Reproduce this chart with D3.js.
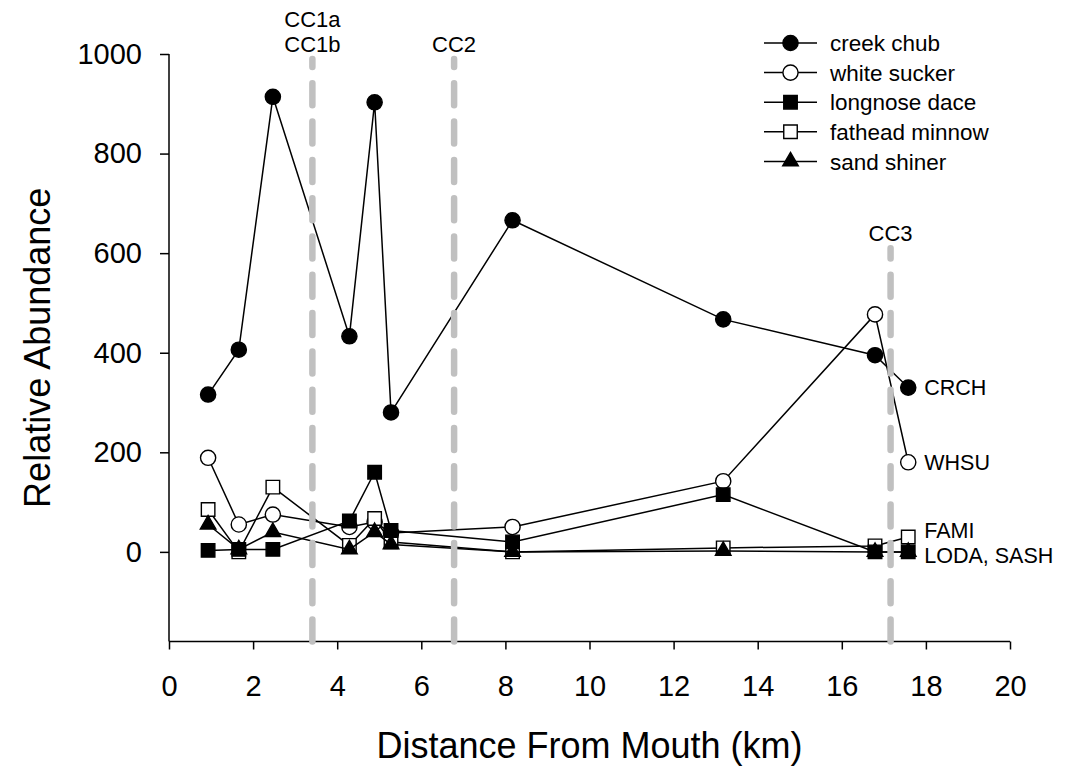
<!DOCTYPE html>
<html>
<head>
<meta charset="utf-8">
<script src="https://cdn.jsdelivr.net/npm/d3@7"></script>
<style>
  html, body { margin: 0; padding: 0; background: #fff; }
  svg text { font-family: "Liberation Sans", Arial, sans-serif; fill: #000; }
</style>
</head>
<body>
<svg id="chart" width="1068" height="767"></svg>
<script>
// Sampling sites along the creek (km upstream of the mouth)
const distanceKm = [0.93, 1.66, 2.47, 4.29, 4.89, 5.28, 8.17, 13.18, 16.79, 17.58];

// Relative abundance per species at each site
const creekChub     = [316, 406, 914, 433, 903, 280, 666, 467, 395, 330];
const whiteSucker   = [189, 55, 75, 50, 60, 38, 50, 142, 477, 180];
const fatheadMinnow = [85, 0, 130, 13, 67, 20, 0, 8, 12, 30];
const longnoseDace  = [3, 5, 5, 62, 160, 43, 20, 115, 0, 0];
const sandShiner    = [55, 5, 40, 5, 40, 15, 0, 2, 0, 0];

// Legend order and names
const speciesNames = ["creek chub", "white sucker", "longnose dace", "fathead minnow", "sand shiner"];
const speciesCodes = ["CRCH", "WHSU", "LODA", "FAMI", "SASH"];

// Reference sites marked with vertical dashed lines
const siteNames = [["CC1a", "CC1b"], ["CC2"], ["CC3"]];
const siteKm    = [3.41, 6.78, 17.16];
const siteTop   = [990, 990, 610];

// Axis ticks
const xTicks = [0, 2, 4, 6, 8, 10, 12, 14, 16, 18, 20];
const yTicks = [0, 200, 400, 600, 800, 1000];

const svg = d3.select("#chart");
const x = d3.scaleLinear().domain([0, 20]).range([169, 1010]);
const y = d3.scaleLinear().domain([-180, 1000]).range([641.5, 54]);

const series = [
  { name: speciesNames[0], values: creekChub,     shape: "circle",   fill: "#000" },
  { name: speciesNames[1], values: whiteSucker,   shape: "circle",   fill: "#fff" },
  { name: speciesNames[2], values: longnoseDace,  shape: "square",   fill: "#000" },
  { name: speciesNames[3], values: fatheadMinnow, shape: "square",   fill: "#fff" },
  { name: speciesNames[4], values: sandShiner,    shape: "triangle", fill: "#000" }
];
const drawOrder = [0, 1, 3, 2, 4];

const symbolPath = {
  circle:   d3.symbol().type(d3.symbolCircle).size(Math.PI * 7.6 * 7.6)(),
  square:   d3.symbol().type(d3.symbolSquare).size(13.5 * 13.5)(),
  triangle: d3.symbol().type(d3.symbolTriangle).size(105)()
};

function drawMarker(g, s, cx, cy) {
  g.append("path")
    .attr("d", symbolPath[s.shape])
    .attr("transform", `translate(${cx},${cy})`)
    .attr("fill", s.fill)
    .attr("stroke", "#000")
    .attr("stroke-width", 1.4);
}

// Axes
const xAxis = svg.append("g")
  .attr("transform", `translate(0,${y(-180)})`)
  .call(d3.axisBottom(x).tickValues(xTicks).tickSizeOuter(0).tickSizeInner(8).tickPadding(26).tickFormat(d3.format("d")));
const yAxis = svg.append("g")
  .attr("transform", `translate(${x(0)},0)`)
  .call(d3.axisLeft(y).tickValues(yTicks).tickSizeOuter(0).tickSizeInner(9).tickPadding(18).tickFormat(d3.format("d")));
[xAxis, yAxis].forEach(a => {
  a.select(".domain").attr("stroke", "#000").attr("stroke-width", 1.5);
  a.selectAll(".tick line").attr("stroke", "#000").attr("stroke-width", 1.5);
  a.selectAll(".tick text").style("font-size", "29px").attr("fill", "#000");
});
yAxis.select(".domain").attr("d", `M0,${y(-180)}V${y(1000)}`);
xAxis.select(".domain").attr("d", `M${x(0)},0H${x(20)}`);

// Axis titles
svg.append("text")
  .attr("x", (x(0) + x(20)) / 2)
  .attr("y", 758)
  .attr("text-anchor", "middle")
  .style("font-size", "36px")
  .text("Distance From Mouth (km)");
svg.append("text")
  .attr("transform", `translate(50,${(y(-180) + y(1000)) / 2}) rotate(-90)`)
  .attr("text-anchor", "middle")
  .style("font-size", "36px")
  .text("Relative Abundance");

// Series lines and markers
const line = d3.line().x(d => x(d[0])).y(d => y(d[1]));
const plot = svg.append("g");
drawOrder.forEach(i => {
  const s = series[i];
  const pts = distanceKm.map((d, j) => [d, s.values[j]]);
  const g = plot.append("g");
  g.append("path")
    .attr("d", line(pts))
    .attr("fill", "none")
    .attr("stroke", "#000")
    .attr("stroke-width", 1.5);
  pts.forEach(p => drawMarker(g, s, x(p[0]), y(p[1])));
});

// Dashed reference lines at the study sites, drawn bottom-up
siteKm.forEach((km, i) => {
  svg.append("line")
    .attr("x1", x(km)).attr("x2", x(km))
    .attr("y1", y(-180)).attr("y2", y(siteTop[i]))
    .attr("stroke", "#c0c0c0")
    .attr("stroke-width", 6.5)
    .attr("stroke-linecap", "round")
    .attr("stroke-dasharray", "22,16.3");
  const lines = siteNames[i];
  const baseY = y(siteTop[i]) - 7;
  lines.forEach((t, k) => {
    svg.append("text")
      .attr("x", x(km))
      .attr("y", baseY - (lines.length - 1 - k) * 25)
      .attr("text-anchor", "middle")
      .style("font-size", "22px")
      .text(t);
  });
});

// End-of-line species codes
const lastIdx = distanceKm.length - 1;
const endLabels = [
  { text: speciesCodes[0], v: creekChub[lastIdx] },
  { text: speciesCodes[1], v: whiteSucker[lastIdx] },
  { text: speciesCodes[3], v: fatheadMinnow[lastIdx] + 14 },
  { text: speciesCodes[2] + ", " + speciesCodes[4], v: longnoseDace[lastIdx] - 6 }
];
endLabels.forEach(l => {
  svg.append("text")
    .attr("x", x(distanceKm[lastIdx]) + 16)
    .attr("y", y(l.v))
    .attr("dy", "0.36em")
    .style("font-size", "21.5px")
    .text(l.text);
});

// Legend
const legend = svg.append("g").attr("transform", "translate(764,43)");
series.forEach((s, i) => {
  const row = legend.append("g").attr("transform", `translate(0,${i * 29.6})`);
  row.append("line").attr("x1", 0).attr("x2", 53).attr("y1", 0).attr("y2", 0)
    .attr("stroke", "#000").attr("stroke-width", 1.5);
  drawMarker(row, s, 26.5, 0);
  row.append("text").attr("x", 66).attr("y", 0).attr("dy", "0.36em")
    .style("font-size", "22.5px").text(s.name);
});
</script>
</body>
</html>
